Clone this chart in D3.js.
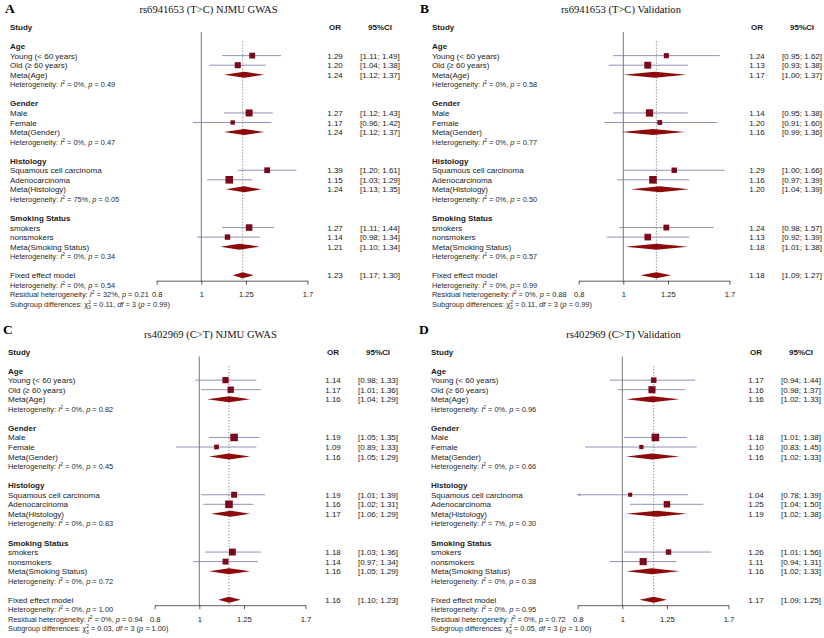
<!DOCTYPE html>
<html><head><meta charset="utf-8">
<script src="https://cdn.jsdelivr.net/npm/d3@7"></script>
<style>html,body{margin:0;padding:0;background:#fff;}svg{display:block;}</style>
</head><body>
<svg id="chart" width="824" height="638"></svg>
<script>
// ---------- data ----------
const groupNames = ["Age", "Gender", "Histology", "Smoking Status"];
const studyLabels = ["Young (< 60 years)", "Old (\u2265 60 years)", "Male", "Female",
  "Squamous cell carcinoma", "Adenocarcinoma", "smokers", "nonsmokers"];
const metaLabels = ["Meta(Age)", "Meta(Gender)", "Meta(Histology)", "Meta(Smoking Status)"];
const tickValues = [0.8, 1, 1.25, 1.7];
const tickLabels = ["0.8", "1", "1.25", "1.7"];
const panelLetters = ["A", "B", "C", "D"];
const panelTitles = ["rs6941653 (T>C) NJMU GWAS", "rs6941653 (T>C) Validation",
  "rs402969 (C>T) NJMU GWAS", "rs402969 (C>T) Validation"];

// Panel A
const orA = [1.29, 1.20, 1.27, 1.17, 1.39, 1.15, 1.27, 1.14];
const loA = [1.11, 1.04, 1.12, 0.96, 1.20, 1.03, 1.11, 0.98];
const hiA = [1.49, 1.38, 1.43, 1.42, 1.61, 1.29, 1.44, 1.34];
const metaOrA = [1.24, 1.24, 1.24, 1.21];
const metaLoA = [1.12, 1.12, 1.13, 1.10];
const metaHiA = [1.37, 1.37, 1.35, 1.34];
const hetI2A = ["0", "0", "75", "0"];
const hetPA = ["0.49", "0.47", "0.05", "0.34"];
const fixedA = [1.23, 1.17, 1.30];
const overallHetA = ["0", "0.54"];
const residHetA = ["32", "0.21"];
const subDiffA = ["0.11", "0.99"];

// Panel B
const orB = [1.24, 1.13, 1.14, 1.20, 1.29, 1.16, 1.24, 1.13];
const loB = [0.95, 0.93, 0.95, 0.91, 1.00, 0.97, 0.98, 0.92];
const hiB = [1.62, 1.38, 1.38, 1.60, 1.66, 1.39, 1.57, 1.39];
const metaOrB = [1.17, 1.16, 1.20, 1.18];
const metaLoB = [1.00, 0.99, 1.04, 1.01];
const metaHiB = [1.37, 1.36, 1.39, 1.38];
const hetI2B = ["0", "0", "0", "0"];
const hetPB = ["0.58", "0.77", "0.50", "0.57"];
const fixedB = [1.18, 1.09, 1.27];
const overallHetB = ["0", "0.99"];
const residHetB = ["0", "0.88"];
const subDiffB = ["0.11", "0.99"];

// Panel C
const orC = [1.14, 1.17, 1.19, 1.09, 1.19, 1.16, 1.18, 1.14];
const loC = [0.98, 1.01, 1.05, 0.89, 1.01, 1.02, 1.03, 0.97];
const hiC = [1.33, 1.36, 1.35, 1.33, 1.39, 1.31, 1.36, 1.34];
const metaOrC = [1.16, 1.16, 1.17, 1.16];
const metaLoC = [1.04, 1.05, 1.06, 1.05];
const metaHiC = [1.29, 1.29, 1.29, 1.29];
const hetI2C = ["0", "0", "0", "0"];
const hetPC = ["0.82", "0.45", "0.83", "0.72"];
const fixedC = [1.16, 1.10, 1.23];
const overallHetC = ["0", "1.00"];
const residHetC = ["0", "0.94"];
const subDiffC = ["0.03", "1.00"];

// Panel D
const orD = [1.17, 1.16, 1.18, 1.10, 1.04, 1.25, 1.26, 1.11];
const loD = [0.94, 0.98, 1.01, 0.83, 0.78, 1.04, 1.01, 0.94];
const hiD = [1.44, 1.37, 1.38, 1.45, 1.39, 1.50, 1.56, 1.31];
const metaOrD = [1.16, 1.16, 1.19, 1.16];
const metaLoD = [1.02, 1.02, 1.02, 1.02];
const metaHiD = [1.33, 1.33, 1.38, 1.33];
const hetI2D = ["0", "0", "7", "0"];
const hetPD = ["0.96", "0.66", "0.30", "0.38"];
const fixedD = [1.17, 1.09, 1.25];
const overallHetD = ["0", "0.95"];
const residHetD = ["0", "0.72"];
const subDiffD = ["0.05", "1.00"];

const panelData = [
  {or: orA, lo: loA, hi: hiA, mOr: metaOrA, mLo: metaLoA, mHi: metaHiA, i2: hetI2A, p: hetPA, fixed: fixedA, oh: overallHetA, rh: residHetA, sd: subDiffA},
  {or: orB, lo: loB, hi: hiB, mOr: metaOrB, mLo: metaLoB, mHi: metaHiB, i2: hetI2B, p: hetPB, fixed: fixedB, oh: overallHetB, rh: residHetB, sd: subDiffB},
  {or: orC, lo: loC, hi: hiC, mOr: metaOrC, mLo: metaLoC, mHi: metaHiC, i2: hetI2C, p: hetPC, fixed: fixedC, oh: overallHetC, rh: residHetC, sd: subDiffC},
  {or: orD, lo: loD, hi: hiD, mOr: metaOrD, mLo: metaLoD, mHi: metaHiD, i2: hetI2D, p: hetPD, fixed: fixedD, oh: overallHetD, rh: residHetD, sd: subDiffD}
];

// ---------- layout ----------
const layouts = [
  {dx: 0, dy: 0, titleX: 208.5, letterX: 5, letterY: 13, titleY: 13},
  {dx: 422, dy: 0, titleX: 621, letterX: 420, letterY: 13, titleY: 13},
  {dx: -2, dy: 324.5, titleX: 210.5, letterX: 3, letterY: 333.5, titleY: 338},
  {dx: 421, dy: 324.5, titleX: 623.5, letterX: 419, letterY: 333.5, titleY: 338}
];
const SANS = "'Liberation Sans', Arial, Helvetica, sans-serif";
const SERIF = "'Liberation Serif', 'Times New Roman', serif";
const ROW0 = 27, ROWH = 9.55;
const SQ_COL = "#7a0a1a", DIA_COL = "#8e0a0a", CI_COL = "#7474aa";
const TXT = "#1a1a1a";

const svg = d3.select("#chart");

function fmt(v) { return v.toFixed(2); }

function hetLine(g, x, y, prefix, i2, p) {
  const t = g.append("text").attr("x", x).attr("y", y)
    .attr("font-size", 7.4).attr("font-family", SANS).attr("fill", "#2a2a2a");
  t.append("tspan").text(prefix + ": ");
  t.append("tspan").attr("font-style", "italic").text("I");
  t.append("tspan").attr("font-size", 5).attr("dy", -3).text("2");
  t.append("tspan").attr("dy", 3).text(" = " + i2 + "%, ");
  t.append("tspan").attr("font-style", "italic").text("p");
  t.append("tspan").text(" = " + p);
}

function subLine(g, x, y, chi, p) {
  const t = g.append("text").attr("x", x).attr("y", y)
    .attr("font-size", 7.4).attr("font-family", SANS).attr("fill", "#2a2a2a");
  t.append("tspan").text("Subgroup differences: \u03c7");
  t.append("tspan").attr("font-size", 5).attr("dy", -3).text("2");
  t.append("tspan").attr("font-size", 5).attr("dx", -2.8).attr("dy", 5.5).text("3");
  t.append("tspan").attr("dy", -2.5).text(" = " + chi + ", ");
  t.append("tspan").attr("font-style", "italic").text("df");
  t.append("tspan").text(" = 3 (");
  t.append("tspan").attr("font-style", "italic").text("p");
  t.append("tspan").text(" = " + p + ")");
}

panelData.forEach((d, pi) => {
  const L = layouts[pi];
  const g = svg.append("g");
  const rowY = r => L.dy + ROW0 + r * ROWH;
  const labelX = 10 + L.dx;
  const x1 = 201.3 + L.dx;
  const orX = 335 + L.dx, ciX = 380 + L.dx;
  const x = d3.scaleLog().domain([0.8, 1.7]).range([x1 + 200 * Math.log(0.8), x1 + 200 * Math.log(1.7)]);
  const clampLo = 0.8, clampHi = 1.7;

  // letter + title
  g.append("text").attr("x", L.letterX).attr("y", L.letterY).attr("font-family", SERIF)
    .attr("font-weight", "bold").attr("font-size", 13.5).attr("fill", "#000").text(panelLetters[pi]);
  g.append("text").attr("x", L.titleX).attr("y", L.titleY).attr("font-family", SERIF)
    .attr("font-size", 10.6).attr("text-anchor", "middle").attr("fill", "#111").text(panelTitles[pi]);

  // header
  const hdr = (tx, txt, anchor) => g.append("text").attr("x", tx).attr("y", rowY(0) + 3)
    .attr("font-family", SANS).attr("font-size", 8).attr("font-weight", "bold")
    .attr("text-anchor", anchor).attr("fill", TXT).text(txt);
  hdr(labelX, "Study", "start");
  hdr(orX, "OR", "middle");
  hdr(ciX, "95%CI", "middle");

  const axisY = rowY(26) + 5.4;

  // reference lines
  g.append("line").attr("x1", x(1)).attr("x2", x(1)).attr("y1", rowY(0) + 5).attr("y2", axisY)
    .attr("stroke", "#555").attr("stroke-width", 0.8);
  g.append("line").attr("x1", x(d.fixed[0])).attr("x2", x(d.fixed[0])).attr("y1", rowY(1) + 5).attr("y2", axisY)
    .attr("stroke", "#666").attr("stroke-width", 0.8).attr("stroke-dasharray", "1.2,1.8");

  // weights for box size
  const w = d.or.map((v, i) => 1 / Math.pow(Math.log(d.hi[i] / d.lo[i]), 2));
  const wmax = d3.max(w);

  const txt = (tx, ty, s, anchor, size) => g.append("text").attr("x", tx).attr("y", ty)
    .attr("font-family", SANS).attr("font-size", size || 8).attr("text-anchor", anchor || "start")
    .attr("fill", TXT).text(s);

  groupNames.forEach((gn, gi) => {
    const base = 2 + gi * 6;
    g.append("text").attr("x", labelX).attr("y", rowY(base) + 3).attr("font-family", SANS)
      .attr("font-size", 8).attr("font-weight", "bold").attr("fill", TXT).text(gn);
    [0, 1].forEach(k => {
      const i = gi * 2 + k;
      const y = rowY(base + 1 + k);
      txt(labelX, y + 3, studyLabels[i]);
      txt(orX, y + 3, fmt(d.or[i]), "middle");
      txt(ciX, y + 3, "[" + fmt(d.lo[i]) + "; " + fmt(d.hi[i]) + "]", "middle");
      const lo = Math.max(d.lo[i], clampLo), hi = Math.min(d.hi[i], clampHi);
      g.append("line").attr("x1", x(lo)).attr("x2", x(hi)).attr("y1", y).attr("y2", y)
        .attr("stroke", CI_COL).attr("stroke-width", 0.8);
      if (d.lo[i] < clampLo) {
        g.append("path").attr("d", `M${x(lo)},${y} l2.5,-1.2 l0,2.4 z`).attr("fill", CI_COL);
      }
      const s = 7.6 * Math.sqrt(w[i] / wmax);
      g.append("rect").attr("x", x(d.or[i]) - s / 2).attr("y", y - s / 2)
        .attr("width", s).attr("height", s).attr("fill", SQ_COL);
    });
    const my = rowY(base + 3);
    txt(labelX, my + 3, metaLabels[gi]);
    txt(orX, my + 3, fmt(d.mOr[gi]), "middle");
    txt(ciX, my + 3, "[" + fmt(d.mLo[gi]) + "; " + fmt(d.mHi[gi]) + "]", "middle");
    g.append("path").attr("d", `M${x(d.mLo[gi])},${my} L${x(d.mOr[gi])},${my - 3} L${x(d.mHi[gi])},${my} L${x(d.mOr[gi])},${my + 3} Z`)
      .attr("fill", DIA_COL);
    hetLine(g, labelX, rowY(base + 4) + 3, "Heterogeneity", d.i2[gi], d.p[gi]);
  });

  // fixed effect
  const fy = rowY(26);
  txt(labelX, fy + 3, "Fixed effect model");
  txt(orX, fy + 3, fmt(d.fixed[0]), "middle");
  txt(ciX, fy + 3, "[" + fmt(d.fixed[1]) + "; " + fmt(d.fixed[2]) + "]", "middle");
  g.append("path").attr("d", `M${x(d.fixed[1])},${fy} L${x(d.fixed[0])},${fy - 3} L${x(d.fixed[2])},${fy} L${x(d.fixed[0])},${fy + 3} Z`)
    .attr("fill", DIA_COL);
  hetLine(g, labelX, rowY(27) + 3, "Heterogeneity", d.oh[0], d.oh[1]);
  hetLine(g, labelX, rowY(28) + 3, "Residual heterogeneity", d.rh[0], d.rh[1]);
  subLine(g, labelX, rowY(29) + 3, d.sd[0], d.sd[1]);

  // axis
  const ax = g.append("g").attr("transform", `translate(0,${axisY})`)
    .call(d3.axisBottom(x).tickValues(tickValues).tickFormat((v, i) => tickLabels[i])
      .tickSize(4).tickSizeOuter(0).tickPadding(7.3));
  ax.select(".domain").attr("stroke", "#333").attr("stroke-width", 0.8);
  ax.selectAll(".tick line").attr("stroke", "#333").attr("stroke-width", 0.8);
  ax.selectAll(".tick text").attr("font-family", SANS).attr("font-size", 7.6).attr("fill", TXT);
});
</script>
</body></html>
